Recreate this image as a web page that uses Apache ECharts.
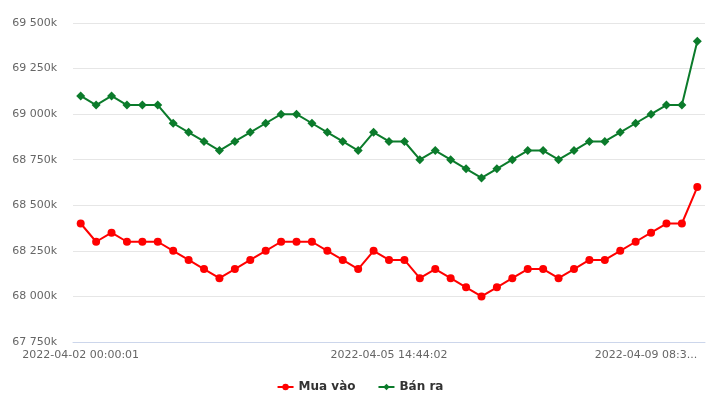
<!DOCTYPE html>
<html>
<head>
<meta charset="utf-8">
<script src="https://cdn.jsdelivr.net/npm/echarts@6/dist/echarts.min.js"></script>
<style>html,body{margin:0;padding:0;background:#fff;}#c{width:720px;height:411px;}</style>
</head>
<body>
<div id="c"></div>
<script>
// x-axis categories (only labels visible in the reference are known)
var categories = [];
for (var i = 0; i < 41; i++) categories.push('');
categories[0] = '2022-04-02 00:00:01';
categories[20] = '2022-04-05 14:44:02';
categories[40] = '2022-04-09 08:30:00';

var seriesNames = ['Mua vào', 'Bán ra'];
// values in thousands
var muaVao = [68400, 68300, 68350, 68300, 68300, 68300, 68250, 68200, 68150, 68100,
  68150, 68200, 68250, 68300, 68300, 68300, 68250, 68200, 68150, 68250,
  68200, 68200, 68100, 68150, 68100, 68050, 68000, 68050, 68100, 68150,
  68150, 68100, 68150, 68200, 68200, 68250, 68300, 68350, 68400, 68400, 68600];
var banRa = [69100, 69050, 69100, 69050, 69050, 69050, 68950, 68900, 68850, 68800,
  68850, 68900, 68950, 69000, 69000, 68950, 68900, 68850, 68800, 68900,
  68850, 68850, 68750, 68800, 68750, 68700, 68650, 68700, 68750, 68800,
  68800, 68750, 68800, 68850, 68850, 68900, 68950, 69000, 69050, 69050, 69400];
var yTicks = [67750, 68000, 68250, 68500, 68750, 69000, 69250, 69500];

function fmt(v) {
  var s = String(v);
  return s.replace(/\B(?=(\d{3})+(?!\d))/g, ' ') + 'k';
}

var chart = echarts.init(document.getElementById('c'));
var font = 'DejaVu Sans';
chart.setOption({
  animation: false,
  textStyle: { fontFamily: font },
  grid: { left: 73, right: 15, top: 23, bottom: 69, containLabel: false },
  legend: {
    data: seriesNames,
    bottom: 13,
    left: 'center',
    itemWidth: 16,
    itemHeight: 8,
    itemGap: 22,
    textStyle: { fontFamily: font, fontSize: 12, fontWeight: 'bold', color: '#333' }
  },
  xAxis: {
    type: 'category',
    data: categories,
    boundaryGap: true,
    axisLine: { lineStyle: { color: '#ccd6eb', width: 1 } },
    axisTick: { show: false },
    axisLabel: {
      interval: 0,
      color: '#666',
      fontSize: 11,
      margin: 8,
      formatter: function (v, idx) {
        if (idx === 40) return v.slice(0, 15) + '...';
        return v;
      },
      alignMaxLabel: 'right'
    },
    splitLine: { show: false }
  },
  yAxis: {
    type: 'value',
    min: yTicks[0],
    max: yTicks[yTicks.length - 1],
    interval: 250,
    axisLine: { show: false },
    axisTick: { show: false },
    axisLabel: { color: '#666', fontSize: 11, margin: 16, formatter: fmt },
    splitLine: { lineStyle: { color: '#e6e6e6', width: 1 } }
  },
  series: [
    {
      name: seriesNames[0], type: 'line', data: muaVao,
      color: '#ff0000', symbol: 'circle', symbolSize: 8, showAllSymbol: true,
      lineStyle: { width: 2, color: '#ff0000' }, itemStyle: { color: '#ff0000' }
    },
    {
      name: seriesNames[1], type: 'line', data: banRa,
      color: '#0b7b2b', symbol: 'diamond', symbolSize: 9, showAllSymbol: true,
      lineStyle: { width: 2, color: '#0b7b2b' }, itemStyle: { color: '#0b7b2b' }
    }
  ]
});
</script>
</body>
</html>
